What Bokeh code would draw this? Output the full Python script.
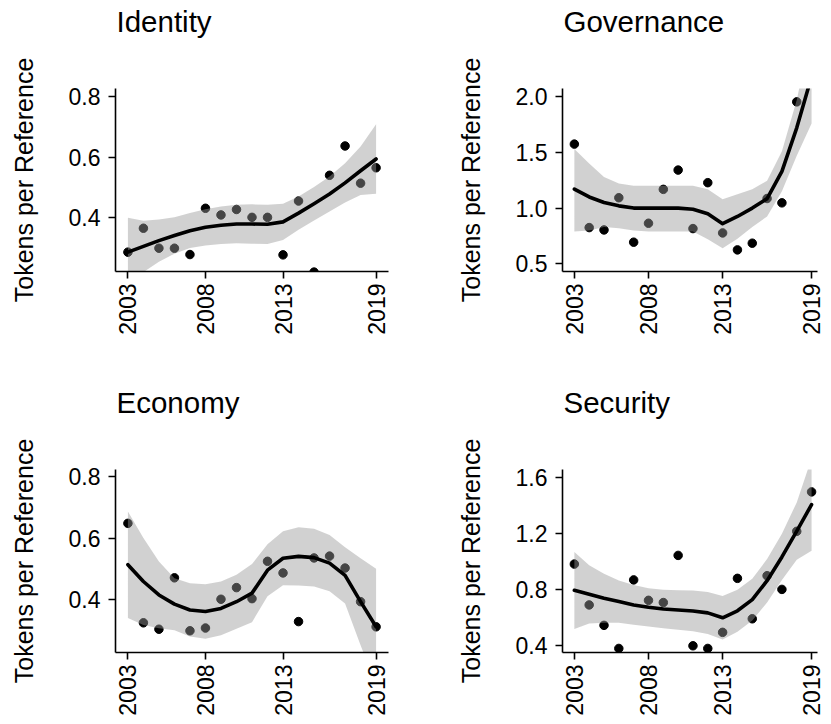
from bokeh.plotting import figure
from bokeh.layouts import row, column
from bokeh.models import Range1d, FixedTicker, PrintfTickFormatter, Title
from bokeh.embed import file_html
from bokeh.resources import INLINE
import math

years = list(range(2003, 2020))
x_ticks = [2003, 2008, 2013, 2019]

identity_pts = [0.286, 0.365, 0.299, 0.299, 0.278, 0.431, 0.409, 0.427, 0.401, 0.401, 0.277, 0.455, 0.220, 0.540, 0.637, 0.514, 0.565]
identity_fit = [0.286, 0.305, 0.324, 0.341, 0.357, 0.368, 0.375, 0.379, 0.379, 0.378, 0.386, 0.415, 0.446, 0.478, 0.515, 0.555, 0.594]
identity_lo = [0.172, 0.220, 0.254, 0.281, 0.300, 0.308, 0.313, 0.315, 0.314, 0.313, 0.326, 0.360, 0.391, 0.420, 0.450, 0.475, 0.479]
identity_hi = [0.400, 0.390, 0.394, 0.401, 0.415, 0.428, 0.437, 0.443, 0.444, 0.443, 0.446, 0.470, 0.501, 0.536, 0.580, 0.635, 0.709]

governance_pts = [1.574, 0.825, 0.804, 1.093, 0.694, 0.864, 1.168, 1.341, 0.816, 1.228, 0.777, 0.625, 0.685, 1.086, 1.047, 1.953, 2.400]
governance_fit = [1.170, 1.100, 1.050, 1.020, 1.000, 1.000, 1.000, 1.000, 0.990, 0.950, 0.860, 0.925, 1.000, 1.085, 1.330, 1.720, 2.180]
governance_lo = [0.790, 0.800, 0.830, 0.820, 0.800, 0.790, 0.790, 0.790, 0.790, 0.720, 0.640, 0.725, 0.830, 0.925, 1.150, 1.470, 1.760]
governance_hi = [1.530, 1.400, 1.280, 1.220, 1.200, 1.200, 1.200, 1.200, 1.200, 1.170, 1.080, 1.125, 1.170, 1.245, 1.510, 1.970, 2.600]

economy_pts = [0.648, 0.323, 0.302, 0.470, 0.297, 0.306, 0.400, 0.438, 0.402, 0.524, 0.486, 0.327, 0.535, 0.541, 0.502, 0.392, 0.310]
economy_fit = [0.513, 0.458, 0.414, 0.384, 0.365, 0.360, 0.370, 0.392, 0.420, 0.495, 0.534, 0.540, 0.536, 0.518, 0.478, 0.392, 0.310]
economy_lo = [0.339, 0.316, 0.305, 0.299, 0.278, 0.271, 0.282, 0.304, 0.325, 0.410, 0.446, 0.445, 0.442, 0.426, 0.386, 0.250, 0.120]
economy_hi = [0.687, 0.600, 0.523, 0.469, 0.452, 0.449, 0.458, 0.480, 0.515, 0.580, 0.622, 0.635, 0.630, 0.610, 0.570, 0.534, 0.500]

security_pts = [0.979, 0.687, 0.541, 0.376, 0.866, 0.720, 0.704, 1.041, 0.395, 0.376, 0.491, 0.877, 0.588, 0.896, 0.798, 1.213, 1.495]
security_fit = [0.792, 0.763, 0.735, 0.711, 0.687, 0.670, 0.658, 0.651, 0.644, 0.630, 0.595, 0.645, 0.725, 0.860, 1.030, 1.215, 1.404]
security_lo = [0.515, 0.555, 0.560, 0.560, 0.545, 0.533, 0.520, 0.510, 0.498, 0.480, 0.440, 0.495, 0.575, 0.705, 0.865, 1.010, 1.075]
security_hi = [1.065, 0.970, 0.910, 0.862, 0.829, 0.807, 0.796, 0.792, 0.790, 0.780, 0.750, 0.795, 0.875, 1.015, 1.195, 1.420, 1.735]

FONT = "Liberation Sans"


def panel(title, pts, fit, lo, hi, yrange, yticks, xrange, fw, mr, mb):
    p = figure(frame_width=fw, frame_height=183,
               x_range=Range1d(*xrange), y_range=Range1d(*yrange),
               output_backend="svg", toolbar_location=None,
               min_border_left=115, min_border_right=mr,
               min_border_top=88, min_border_bottom=mb)
    p.grid.visible = False
    p.outline_line_color = None
    p.background_fill_color = "white"
    p.border_fill_color = "white"

    p.scatter(years, pts, size=8.5, color="black", line_color="black")
    p.varea(x=years, y1=lo, y2=hi, fill_color="#999999", fill_alpha=0.45)
    p.line(years, fit, line_width=3.6, color="black", line_join="round", line_cap="round")

    # spacer panel between the frame and the title
    spacer = Title(text=" ", text_font_size="10px", standoff=38, text_color="white")
    p.add_layout(spacer, "above")
    t = Title(text=title, text_font=FONT, text_font_size="29.5px",
              text_font_style="normal", text_color="black", align="left",
              offset=1, standoff=0)
    p.add_layout(t, "above")

    for ax in (p.xaxis[0], p.yaxis[0]):
        ax.axis_line_width = 1.6
        ax.axis_line_color = "black"
        ax.major_tick_line_width = 1.6
        ax.major_tick_line_color = "black"
        ax.major_tick_out = 7
        ax.major_tick_in = 0
        ax.minor_tick_out = 0
        ax.minor_tick_in = 0
        ax.major_label_text_font = FONT
        ax.major_label_text_font_size = "23px"
        ax.major_label_text_color = "black"

    xa = p.xaxis[0]
    xa.ticker = FixedTicker(ticks=x_ticks)
    xa.formatter = PrintfTickFormatter(format="%d")
    xa.major_label_orientation = math.pi / 2
    xa.major_label_standoff = 5

    ya = p.yaxis[0]
    ya.ticker = FixedTicker(ticks=yticks)
    ya.formatter = PrintfTickFormatter(format="%.1f")
    ya.major_label_standoff = 8
    ya.axis_label = "Tokens per Reference"
    ya.axis_label_text_font = FONT
    ya.axis_label_text_font_size = "25px"
    ya.axis_label_text_font_style = "normal"
    ya.axis_label_text_color = "black"
    ya.axis_label_standoff = 28
    return p


left_x = (2002.2, 2019.8)
right_x = (2002.2, 2019.4)

p1 = panel("Identity", identity_pts, identity_fit, identity_lo, identity_hi,
           (0.222, 0.827), [0.4, 0.6, 0.8], left_x, 273, 59, 110)
p2 = panel("Governance", governance_pts, governance_fit, governance_lo, governance_hi,
           (0.431, 2.073), [0.5, 1.0, 1.5, 2.0], right_x, 255, 12, 110)
p3 = panel("Economy", economy_pts, economy_fit, economy_lo, economy_hi,
           (0.226, 0.824), [0.4, 0.6, 0.8], left_x, 273, 59, 64)
p4 = panel("Security", security_pts, security_fit, security_lo, security_hi,
           (0.347, 1.655), [0.4, 0.8, 1.2, 1.6], right_x, 255, 12, 64)

layout = column(row(p1, p2), row(p3, p4))

open("out.html", "w").write(file_html(layout, INLINE))
